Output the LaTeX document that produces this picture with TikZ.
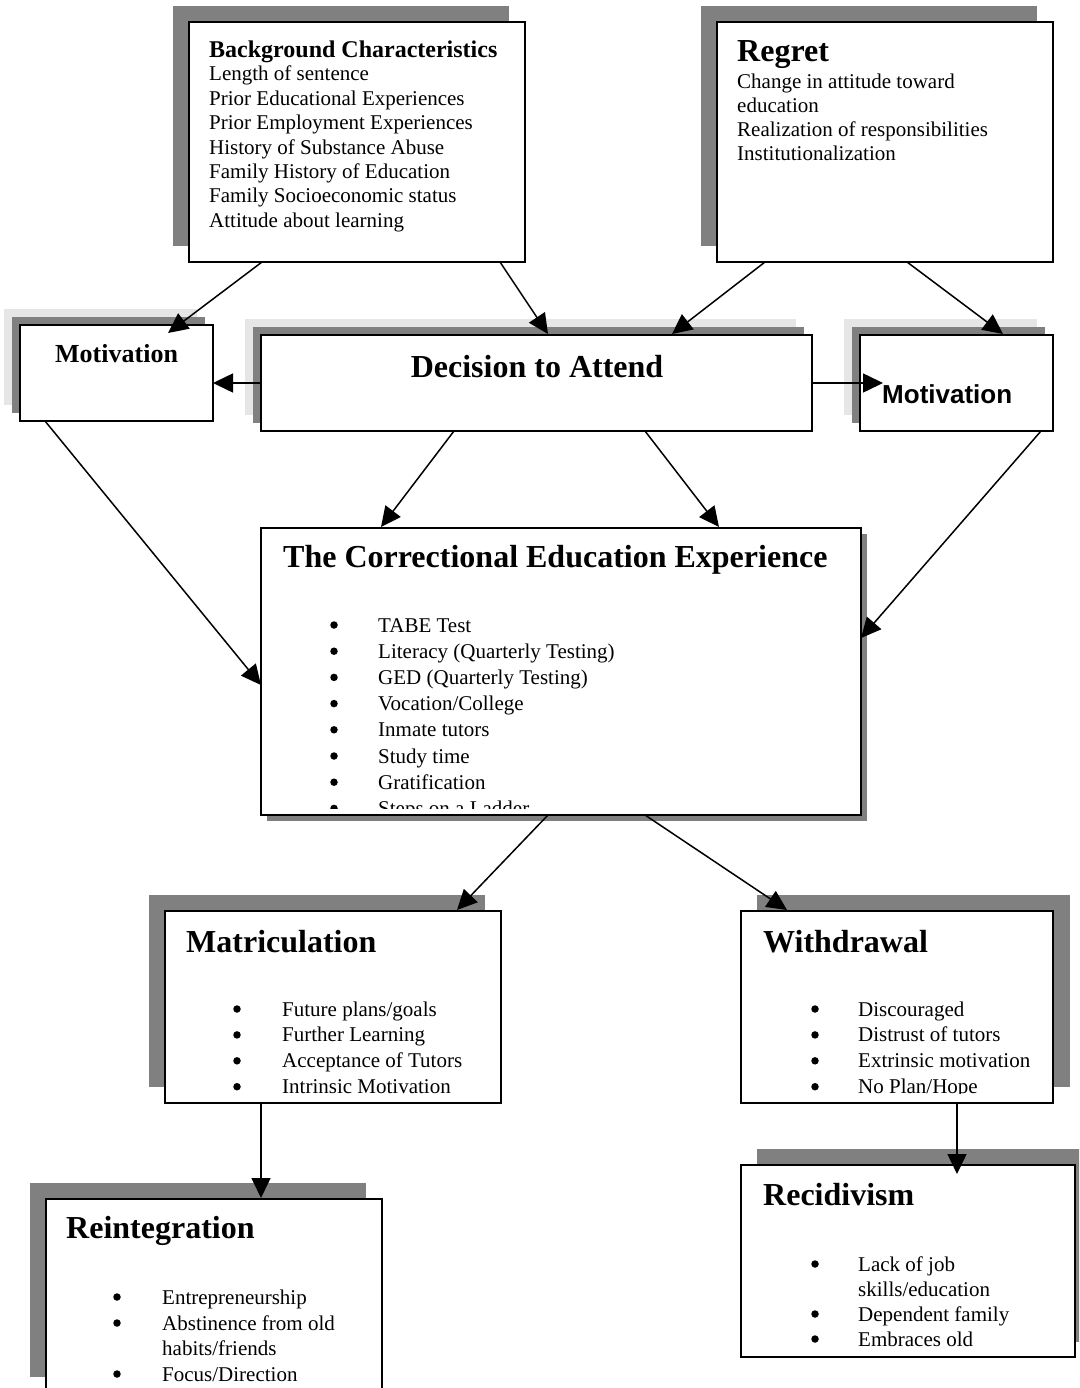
\documentclass[tikz,border=0pt]{standalone}
\usepackage{fontspec}
\setmainfont{Liberation Serif}
\newfontfamily\arialfont{Liberation Sans}
\usetikzlibrary{arrows.meta,calc}
\definecolor{shadowdark}{RGB}{128,128,128}
\definecolor{shadowlight}{RGB}{230,230,230}
\begin{document}
\begin{tikzpicture}[x=1pt,y=-1pt,
  box/.style={draw=black, line width=2pt, fill=white, rectangle, inner sep=0pt, outer sep=0pt, anchor=north west},
  dshadow/.style={fill=shadowdark},
  lshadow/.style={fill=shadowlight},
  txt/.style={anchor=base west, inner sep=0pt, font=\fontsize{21}{24}\selectfont},
  bul/.style={circle, fill=black, inner sep=0pt, minimum size=7.5pt, yshift=7pt},
  ttl/.style={anchor=base west, inner sep=0pt, font=\fontsize{32}{38}\selectfont\bfseries},
  conn/.style={line width=1.5pt, -{Triangle[length=20pt,width=19pt]}}
]
\useasboundingbox (0,0) rectangle (1079,1388);
\clip (0,0) rectangle (1079,1388);

% shadows
\fill[dshadow] (173,6) rectangle (509,246);
\fill[dshadow] (701,6) rectangle (1037,246);
\fill[lshadow] (4,309) rectangle (197,405);
\fill[dshadow] (12,317) rectangle (205,413);
\fill[lshadow] (245,319) rectangle (796,415);
\fill[dshadow] (253,327) rectangle (804,423);
\fill[lshadow] (844,319) rectangle (1037,415);
\fill[dshadow] (852,327) rectangle (1045,423);
\fill[dshadow] (267,534) rectangle (867,821);
\fill[dshadow] (149,895) rectangle (485,1087);
\fill[dshadow] (757,895) rectangle (1070,1087);
\fill[dshadow] (30,1183) rectangle (366,1377);
\fill[dshadow] (757,1149) rectangle (1095,1342);

% boxes
\node[box, minimum width=336pt, minimum height=240pt] (bg) at (189,22) {};
\node[box, minimum width=336pt, minimum height=240pt] (rg) at (717,22) {};
\node[box, minimum width=193pt, minimum height=96pt] (mL) at (20,325) {};
\node[box, minimum width=551pt, minimum height=96pt] (dec) at (261,335) {};
\node[box, minimum width=193pt, minimum height=96pt] (mR) at (860,335) {};
\node[box, minimum width=600pt, minimum height=287pt] (ce) at (261,528) {};
\node[box, minimum width=336pt, minimum height=192pt] (mat) at (165,911) {};
\node[box, minimum width=312pt, minimum height=192pt] (wd) at (741,911) {};
\node[box, minimum width=336pt, minimum height=230pt] (rein) at (46,1199) {};
\node[box, minimum width=334pt, minimum height=192pt] (rec) at (741,1165) {};

% Background
\node[anchor=base west, inner sep=0pt, font=\fontsize{24}{28}\selectfont\bfseries] (bgt) at (209,58) {Background Characteristics};
\foreach \t [count=\i] in {Length of sentence, Prior Educational Experiences, Prior Employment Experiences, History of Substance Abuse, Family History of Education, Family Socioeconomic status, Attitude about learning}
  \node[txt] (bg\i) at (209,{81+24.4*(\i-1)}) {\t};

% Regret
\node[ttl] (rgt) at (737,62) {Regret};
\foreach \t [count=\i] in {Change in attitude toward, education, Realization of responsibilities, Institutionalization}
  \node[txt] (rg\i) at (737,{89+24*(\i-1)}) {\t};

% Motivation boxes and decision
\node[anchor=base west, inner sep=0pt, font=\fontsize{26}{30}\selectfont\bfseries] (mLt) at (55,362) {Motivation};
\node[anchor=base, inner sep=0pt, font=\fontsize{32}{38}\selectfont\bfseries] (dect) at (537,377) {Decision to Attend};
\node[anchor=base west, inner sep=0pt, font=\fontsize{26}{30}\selectfont\arialfont\bfseries] (mRt) at (882,403) {Motivation};

% Correctional education experience
\node[ttl] (cet) at (283,567) {The Correctional Education Experience};
\begin{scope}
\clip (263,530) rectangle (859,808);
\foreach \t [count=\i] in {TABE Test, Literacy (Quarterly Testing), GED (Quarterly Testing), Vocation/College, Inmate tutors, Study time, Gratification, Steps on a Ladder}
{
  \node[txt] (ce\i) at (378,{632+26.2*(\i-1)}) {\t};
  \node[bul] (ceb\i) at (334,{632+26.2*(\i-1)}) {};
}
\end{scope}

% Matriculation
\node[ttl] (matt) at (186,952) {Matriculation};
\begin{scope}
\clip (167,913) rectangle (499,1093);
\foreach \t [count=\i] in {Future plans/goals, Further Learning, Acceptance of Tutors, Intrinsic Motivation}
{
  \node[txt] (mat\i) at (282,{1016+25.9*(\i-1)}) {\t};
  \node[bul] (matb\i) at (237,{1016+25.9*(\i-1)}) {};
}
\end{scope}

% Withdrawal
\node[ttl] (wdt) at (763,952) {Withdrawal};
\begin{scope}
\clip (743,913) rectangle (1051,1093);
\foreach \t [count=\i] in {Discouraged, Distrust of tutors, Extrinsic motivation, No Plan/Hope}
{
  \node[txt] (wd\i) at (858,{1016+25.9*(\i-1)}) {\t};
  \node[bul] (wdb\i) at (815,{1016+25.9*(\i-1)}) {};
}
\end{scope}

% Reintegration
\node[ttl] (reint) at (66,1238) {Reintegration};
\node[txt] (rein1) at (162,1304) {Entrepreneurship};
\node[bul] (reinb1) at (117,1304) {};
\node[txt] (rein2) at (162,1330) {Abstinence from old};
\node[bul] (reinb2) at (117,1330) {};
\node[txt] (rein3) at (162,1355) {habits/friends};
\node[txt] (rein4) at (162,1381) {Focus/Direction};
\node[bul] (reinb4) at (117,1381) {};

% Recidivism
\node[ttl] (rect) at (763,1205) {Recidivism};
\node[txt] (rec1) at (858,1271) {Lack of job};
\node[bul] (recb1) at (815,1271) {};
\node[txt] (rec2) at (858,1296) {skills/education};
\node[txt] (rec3) at (858,1321) {Dependent family};
\node[bul] (recb3) at (815,1321) {};
\node[txt] (rec4) at (858,1346) {Embraces old};
\node[bul] (recb4) at (815,1346) {};

% connectors
\draw[conn] ([xshift=73pt]bg.south west) -- ([xshift=148pt,yshift=-8pt]mL.north west);
\draw[conn] ([xshift=311pt]bg.south west) -- ([xshift=287pt,yshift=1pt]dec.north west);
\draw[conn] ([xshift=48pt]rg.south west) -- ([xshift=411pt,yshift=1pt]dec.north west);
\draw[conn] ([xshift=190pt]rg.south west) -- ([xshift=143pt,yshift=1pt]mR.north west);
\draw[conn] ([yshift=-48pt]dec.north west) -- ([yshift=-58pt]mL.north east);
\coordinate (mRin) at ([xshift=23pt,yshift=-48pt]mR.north west);
\draw[conn] ([yshift=-48pt]dec.north east) -- (mRin);
\draw[conn] ([xshift=25pt]mL.south west) -- ([yshift=-157pt]ce.north west);
\draw[conn] ([xshift=193pt]dec.south west) -- ([xshift=120pt,yshift=1pt]ce.north west);
\draw[conn] ([xshift=384pt]dec.south west) -- ([xshift=458pt,yshift=1pt]ce.north west);
\draw[conn] ([xshift=-12pt]mR.south east) -- ([yshift=-110pt]ce.north east);
\draw[conn] ([xshift=287pt]ce.south west) -- ([xshift=292pt,yshift=1pt]mat.north west);
\draw[conn] ([xshift=384pt]ce.south west) -- ([xshift=46pt,yshift=1pt]wd.north west);
\draw[conn] ([xshift=96pt]mat.south west) -- ([xshift=215pt,yshift=1pt]rein.north west);
\draw[conn] ([xshift=216pt]wd.south west) -- ([xshift=216pt,yshift=-9pt]rec.north west);
\end{tikzpicture}
\end{document}
